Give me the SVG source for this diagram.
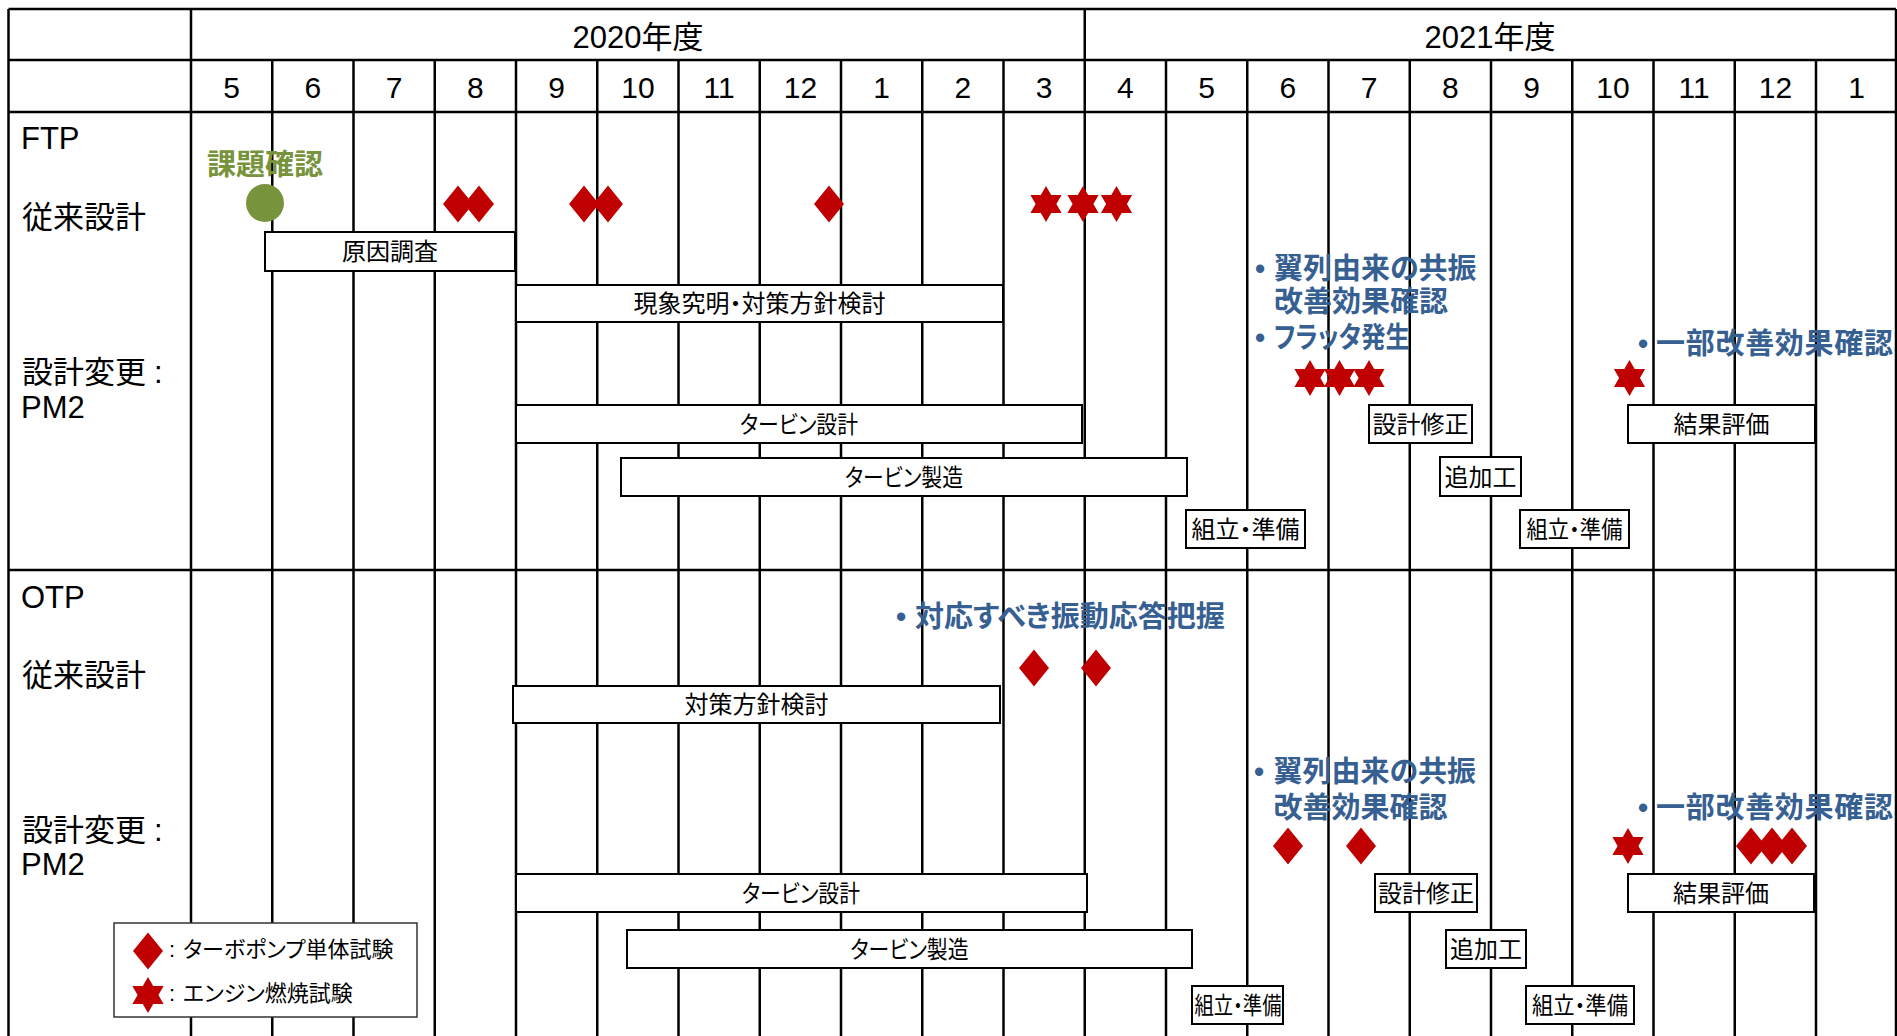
<svg xmlns="http://www.w3.org/2000/svg" xmlns:xlink="http://www.w3.org/1999/xlink" width="1897" height="1036" viewBox="0 0 1897 1036">
<style>
text{font-family:"Liberation Sans","Noto Sans CJK JP",sans-serif;fill:#000}
.g{stroke:#000;stroke-width:2.5;fill:none}
.bar rect{fill:#fff;stroke:#000;stroke-width:2}
.bt{font-size:24px;text-anchor:middle;font-feature-settings:"palt" 1}
.lbl{font-size:31px}
.yr{font-size:31px;text-anchor:middle}
.mon{font-size:30px;text-anchor:middle}
.blue{fill:#376092;font-weight:bold;font-size:29px;font-feature-settings:"palt" 1}
.green{fill:#77933C;font-weight:bold;font-size:29px;text-anchor:middle}
.red{fill:#C00000}
.leg{font-size:22px;font-feature-settings:"palt" 1}
</style>
<defs>
<path id="dia" d="M0,-18.5 L15,0 L0,18.5 L-15,0 Z"/>
<path id="star" d="M0,-18 L5.2,-9 L15.6,-9 L10.4,0 L15.6,9 L5.2,9 L0,18 L-5.2,9 L-15.6,9 L-10.4,0 L-15.6,-9 L-5.2,-9 Z"/>
</defs>
<rect x="0" y="0" width="1897" height="1036" fill="#fff"/>
<g id="grid" class="g">
<line x1="8.5" y1="9" x2="1896" y2="9"/>
<line x1="8.5" y1="60" x2="1896" y2="60"/>
<line x1="8.5" y1="112" x2="1896" y2="112"/>
<line x1="8.5" y1="570" x2="1896" y2="570"/>
<line x1="8.5" y1="9" x2="8.5" y2="1036"/>
<line x1="191" y1="9" x2="191" y2="1036"/>
<line x1="1084.75" y1="9" x2="1084.75" y2="1036"/>
<line x1="1896" y1="9" x2="1896" y2="1036"/>
<path d="M272.25,60V1036M353.5,60V1036M434.75,60V1036M516,60V1036M597.25,60V1036M678.5,60V1036M759.75,60V1036M841,60V1036M922.25,60V1036M1003.5,60V1036M1166,60V1036M1247.25,60V1036M1328.5,60V1036M1409.75,60V1036M1491,60V1036M1572.25,60V1036M1653.5,60V1036M1734.75,60V1036M1816,60V1036"/>
</g>
<g id="connectors"/>
<g id="header">
<text class="yr" x="638" y="47.5">2020年度</text>
<text class="yr" x="1490" y="47.5">2021年度</text>
<text class="mon" y="98"><tspan x="231.6">5</tspan><tspan x="312.9">6</tspan><tspan x="394.1">7</tspan><tspan x="475.4">8</tspan><tspan x="556.6">9</tspan><tspan x="637.9">10</tspan><tspan x="719.1">11</tspan><tspan x="800.4">12</tspan><tspan x="881.6">1</tspan><tspan x="962.9">2</tspan><tspan x="1044.1">3</tspan><tspan x="1125.4">4</tspan><tspan x="1206.6">5</tspan><tspan x="1287.9">6</tspan><tspan x="1369.1">7</tspan><tspan x="1450.4">8</tspan><tspan x="1531.6">9</tspan><tspan x="1612.9">10</tspan><tspan x="1694.1">11</tspan><tspan x="1775.4">12</tspan><tspan x="1856.6">1</tspan></text>
</g>
<g id="row-labels">
<text class="lbl" x="21" y="149">FTP</text>
<text class="lbl" x="22" y="228">従来設計</text>
<text class="lbl" y="383"><tspan x="22">設計変更</tspan><tspan x="154">:</tspan></text>
<text class="lbl" x="21" y="418">PM2</text>
<text class="lbl" x="21" y="608">OTP</text>
<text class="lbl" x="22" y="686">従来設計</text>
<text class="lbl" y="841"><tspan x="22">設計変更</tspan><tspan x="154">:</tspan></text>
<text class="lbl" x="21" y="875">PM2</text>
</g>
<g id="ftp-bars" class="bar">
<g id="ftp-genin"><rect x="265" y="232" width="250" height="39"/><text class="bt" x="390" y="260">原因調査</text></g>
<g id="ftp-genshou"><rect x="516" y="285" width="487" height="37"/><text class="bt" x="759.5" y="312">現象究明・対策方針検討</text></g>
<g id="ftp-turbine-design"><rect x="516" y="405" width="566" height="38"/><text class="bt" x="799" y="432.5" textLength="118" lengthAdjust="spacingAndGlyphs">タービン設計</text></g>
<g id="ftp-turbine-mfg"><rect x="621" y="458" width="566" height="38"/><text class="bt" x="904" y="485.5" textLength="118" lengthAdjust="spacingAndGlyphs">タービン製造</text></g>
<g id="ftp-assy1"><rect x="1186" y="510" width="119" height="38"/><text class="bt" x="1245.5" y="537.5">組立・準備</text></g>
<g id="ftp-mod"><rect x="1369" y="405" width="103" height="38"/><text class="bt" x="1420.5" y="432.5">設計修正</text></g>
<g id="ftp-eval"><rect x="1628" y="405" width="187" height="38"/><text class="bt" x="1721.5" y="432.5">結果評価</text></g>
<g id="ftp-addwork"><rect x="1440" y="457" width="81" height="39"/><text class="bt" x="1480.5" y="485.5">追加工</text></g>
<g id="ftp-assy2"><rect x="1520" y="510" width="109" height="38"/><text class="bt" x="1574.5" y="537.5" textLength="96" lengthAdjust="spacingAndGlyphs">組立・準備</text></g>
</g>
<g id="otp-bars" class="bar">
<g id="otp-taisaku"><rect x="513" y="686" width="487" height="37"/><text class="bt" x="756.5" y="713">対策方針検討</text></g>
<g id="otp-turbine-design"><rect x="516" y="874" width="571" height="38"/><text class="bt" x="801" y="901.5" textLength="118" lengthAdjust="spacingAndGlyphs">タービン設計</text></g>
<g id="otp-turbine-mfg"><rect x="627" y="930" width="565" height="38"/><text class="bt" x="909.5" y="957.5" textLength="118" lengthAdjust="spacingAndGlyphs">タービン製造</text></g>
<g id="otp-assy1"><rect x="1192" y="986" width="91" height="38"/><text class="bt" x="1238" y="1013.5" textLength="87" lengthAdjust="spacingAndGlyphs">組立・準備</text></g>
<g id="otp-mod"><rect x="1375" y="874" width="102" height="38"/><text class="bt" x="1426" y="901.5">設計修正</text></g>
<g id="otp-eval"><rect x="1628" y="874" width="186" height="38"/><text class="bt" x="1721" y="901.5">結果評価</text></g>
<g id="otp-addwork"><rect x="1446" y="930" width="80" height="38"/><text class="bt" x="1486" y="957.5">追加工</text></g>
<g id="otp-assy2"><rect x="1526" y="986" width="108" height="38"/><text class="bt" x="1580" y="1013.5" textLength="96" lengthAdjust="spacingAndGlyphs">組立・準備</text></g>
</g>
<g id="ftp-markers" class="red">
<g id="ftp-kadai"><circle cx="265" cy="203" r="19" fill="#77933C"/><text class="green" x="265" y="174.5">課題確認</text></g>
<use xlink:href="#dia" x="458" y="204"/>
<use xlink:href="#dia" x="479" y="204"/>
<use xlink:href="#dia" x="584" y="204"/>
<use xlink:href="#dia" x="608" y="204"/>
<use xlink:href="#dia" x="829" y="204"/>
<use xlink:href="#star" x="1046" y="204"/>
<use xlink:href="#star" x="1083" y="204"/>
<use xlink:href="#star" x="1116.5" y="204"/>
<use xlink:href="#star" x="1310" y="378"/>
<use xlink:href="#star" x="1339.5" y="378"/>
<use xlink:href="#star" x="1369" y="378"/>
<use xlink:href="#star" x="1629.5" y="378"/>
</g>
<g id="otp-markers" class="red">
<use xlink:href="#dia" x="1034" y="668"/>
<use xlink:href="#dia" x="1096" y="668"/>
<use xlink:href="#dia" x="1288" y="846"/>
<use xlink:href="#dia" x="1361" y="846"/>
<use xlink:href="#star" x="1628" y="846"/>
<use xlink:href="#dia" x="1751" y="846"/>
<use xlink:href="#dia" x="1772" y="846"/>
<use xlink:href="#dia" x="1792" y="846"/>
</g>
<g id="ftp-notes">
<text class="blue" y="279"><tspan x="1255">•</tspan><tspan x="1274">翼列由来の共振</tspan></text>
<text class="blue" x="1274" y="312">改善効果確認</text>
<text class="blue" y="348"><tspan x="1255">•</tspan><tspan x="1274" textLength="136" lengthAdjust="spacingAndGlyphs">フラッタ発生</tspan></text>
<text class="blue" y="353.5"><tspan x="1638">•</tspan><tspan x="1656" textLength="237" lengthAdjust="spacing">一部改善効果確認</tspan></text>
</g>
<g id="otp-notes">
<text class="blue" y="627"><tspan x="896">•</tspan><tspan x="915">対応すべき振動応答把握</tspan></text>
<text class="blue" y="782"><tspan x="1254">•</tspan><tspan x="1273.5">翼列由来の共振</tspan></text>
<text class="blue" x="1273.5" y="817.5">改善効果確認</text>
<text class="blue" y="818"><tspan x="1638">•</tspan><tspan x="1656" textLength="237" lengthAdjust="spacing">一部改善効果確認</tspan></text>
</g>
<g id="legend">
<rect x="114" y="923" width="303" height="94" fill="#fff" stroke="#333" stroke-width="1.5"/>
<use xlink:href="#dia" x="148" y="951" class="red"/>
<use xlink:href="#star" x="148" y="995" class="red"/>
<text class="leg" y="957"><tspan x="169">:</tspan><tspan x="183">ターボポンプ単体試験</tspan></text>
<text class="leg" y="1001"><tspan x="169">:</tspan><tspan x="183">エンジン燃焼試験</tspan></text>
</g>
</svg>
